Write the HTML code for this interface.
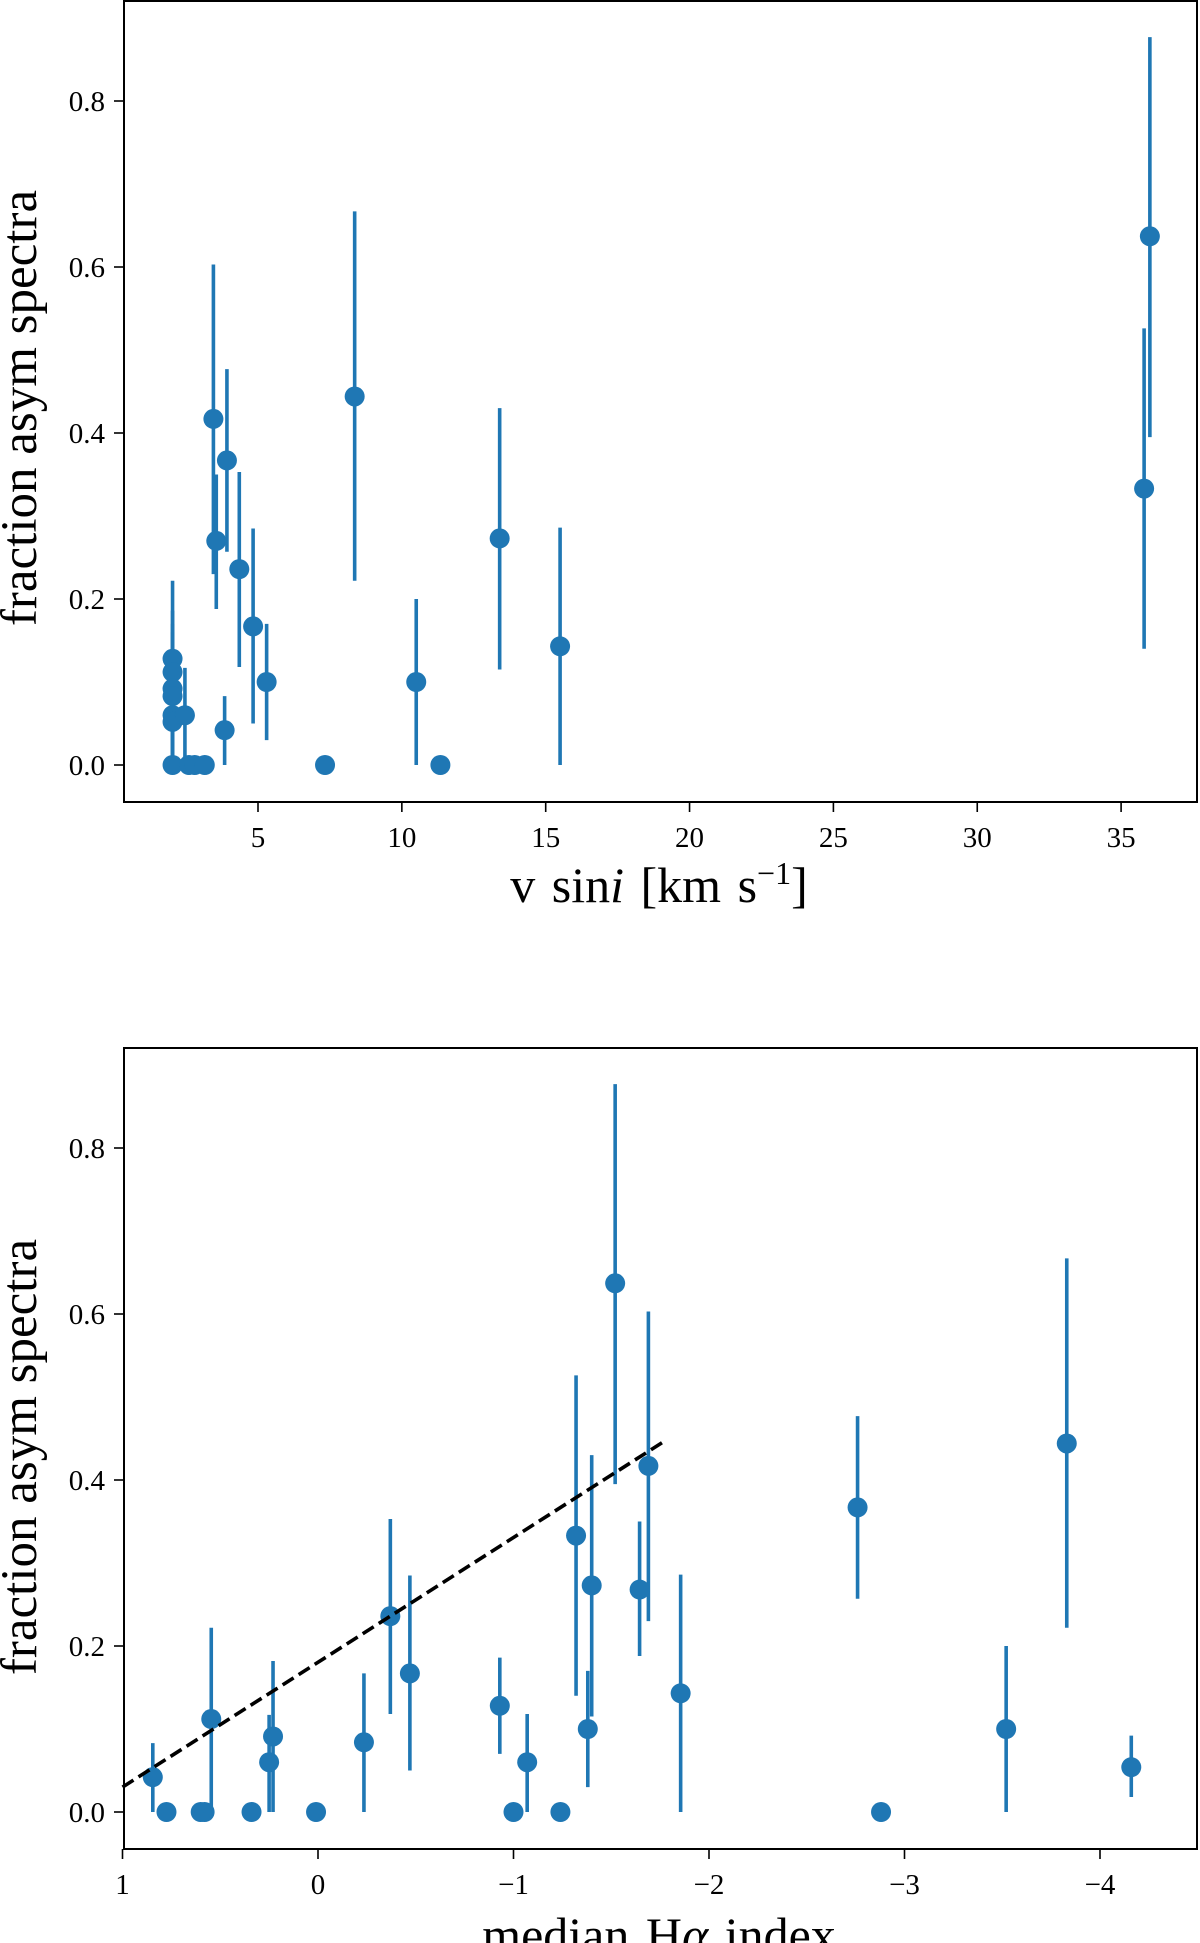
<!DOCTYPE html>
<html><head><meta charset="utf-8"><style>
html,body{margin:0;padding:0;background:#fff;}
svg{display:block;font-family:"Liberation Serif","DejaVu Serif",serif;}
</style></head><body>
<svg id="fig" width="1200" height="1943" viewBox="0 0 1200 1943" xmlns="http://www.w3.org/2000/svg"></svg>
<script>
// Top panel data: v sin i
const vsini = [2.03,2.03,2.03,2.03,2.03,2.03,2.03,2.46,2.6,2.8,3.15,3.45,3.55,3.84,3.92,4.35,4.83,5.3,7.33,8.36,10.5,11.34,13.4,15.5,35.8,36.0];
const topFrac = [0,0.128,0.112,0.092,0.083,0.06,0.052,0.06,0,0,0,0.417,0.27,0.042,0.367,0.236,0.167,0.1,0,0.444,0.1,0,0.273,0.143,0.333,0.637];
const topLo = [0,0.07,0,0.03,0,0,0,0,0,0,0,0.23,0.188,0,0.257,0.118,0.05,0.03,0,0.222,0,0,0.115,0,0.14,0.395];
const topHi = [0,0.186,0.222,0.16,0.17,0.117,0.1,0.117,0,0,0,0.603,0.35,0.083,0.477,0.353,0.285,0.17,0,0.667,0.2,0,0.43,0.286,0.526,0.877];
const topXTicks = [5,10,15,20,25,30,35];
const yTicks = [0.0,0.2,0.4,0.6,0.8];
// Bottom panel data: median Halpha index
const halpha = [0.845,0.775,0.60,0.58,0.546,0.34,0.25,0.23,0.01,-0.235,-0.37,-0.47,-0.93,-1.0,-1.07,-1.24,-1.32,-1.38,-1.40,-1.52,-1.645,-1.69,-1.855,-2.76,-2.88,-3.52,-3.83,-4.16];
const botFrac = [0.042,0,0,0,0.112,0,0.06,0.091,0,0.084,0.236,0.167,0.128,0,0.06,0,0.333,0.1,0.273,0.637,0.268,0.417,0.143,0.367,0,0.1,0.444,0.054];
const botLo = [0,0,0,0,0,0,0,0,0,0,0.118,0.05,0.07,0,0,0,0.14,0.03,0.115,0.395,0.188,0.23,0,0.257,0,0,0.222,0.018];
const botHi = [0.083,0,0,0,0.222,0,0.117,0.182,0,0.167,0.353,0.285,0.186,0,0.118,0,0.526,0.17,0.43,0.877,0.35,0.603,0.286,0.477,0,0.2,0.667,0.092];
const botXTicks = [1,0,-1,-2,-3,-4];
const fitX = [1,-1.78];
const fitY = [0.03,0.448];

const NS="http://www.w3.org/2000/svg";
const svg=document.getElementById('fig');
function mk(tag,attrs,parent){const e=document.createElementNS(NS,tag);for(const k in attrs)e.setAttribute(k,attrs[k]);(parent||svg).appendChild(e);return e;}
const blue="#1f77b4";

function panel(name,top,xf,yf,xs,ys,lo,hi,xticks,xlabelHTML,xlabelY,ylabelCY,fmt){
  const L=124,R=1197,T=top,B=top+802;
  const g=mk('g',{});
  
  
  for(let i=0;i<xs.length;i++){
    if(hi[i]>lo[i]){
      const l=mk('line',{x1:xf(xs[i]),x2:xf(xs[i]),y1:yf(lo[i]),y2:yf(hi[i]),stroke:blue,'stroke-width':3.6},g);
      
      
    }
  }
  for(let i=0;i<xs.length;i++){
    const c=mk('circle',{cx:xf(xs[i]),cy:yf(ys[i]),r:10,fill:blue},g);
    
    
  }
  const f=mk('rect',{x:L,y:T+1,width:R-L,height:B-T-1,fill:'none',stroke:'#000','stroke-width':2},g);
  
  
  yTicks.forEach(v=>{
    const y=yf(v);
    mk('line',{x1:L-10,x2:L,y1:y,y2:y,stroke:'#000','stroke-width':1.6},g);
    const t=mk('text',{x:L-19,y:y+10,'font-size':29,'text-anchor':'end'},g);
    
    
    t.textContent=v.toFixed(1);
  });
  xticks.forEach(v=>{
    const x=xf(v);
    mk('line',{x1:x,x2:x,y1:B,y2:B+10,stroke:'#000','stroke-width':1.6},g);
    const t=mk('text',{x:x,y:B+45,'font-size':29,'text-anchor':'middle'},g);
    
    
    t.textContent=fmt(v);
  });
  const xl=mk('text',{x:659,y:xlabelY,'font-size':50,'text-anchor':'middle','word-spacing':4},g);
  
  
  xl.innerHTML=xlabelHTML;
  const yl=mk('text',{x:0,y:0,'font-size':51,'text-anchor':'middle',transform:`translate(36,${ylabelCY}) rotate(-90)`},g);
  
  
  yl.textContent='fraction asym spectra';
  return g;
}

// top
const xTop=v=>258+(v-5)*28.77;
const yTop=v=>765-v*830;
panel('vsini-panel',0,xTop,yTop,vsini,topFrac,topLo,topHi,topXTicks,
  'v sin<tspan font-style="italic">i</tspan>  [km s<tspan baseline-shift="super" font-size="32">−1</tspan>]',902,408,v=>String(v));

// bottom
const xBot=h=>318-h*195.5;
const yBot=v=>1812-v*830;
const gb=panel('halpha-panel',1047,xBot,yBot,halpha,botFrac,botLo,botHi,botXTicks,
  'median H<tspan font-style="italic">α</tspan> index',1952,1457,v=>v<0?'−'+Math.abs(v):String(v));
const fit=mk('line',{x1:xBot(fitX[0]),y1:yBot(fitY[0]),x2:xBot(fitX[1]),y2:yBot(fitY[1]),stroke:'#000','stroke-width':3.6,'stroke-dasharray':'13,6'},gb);


</script>
</body></html>
